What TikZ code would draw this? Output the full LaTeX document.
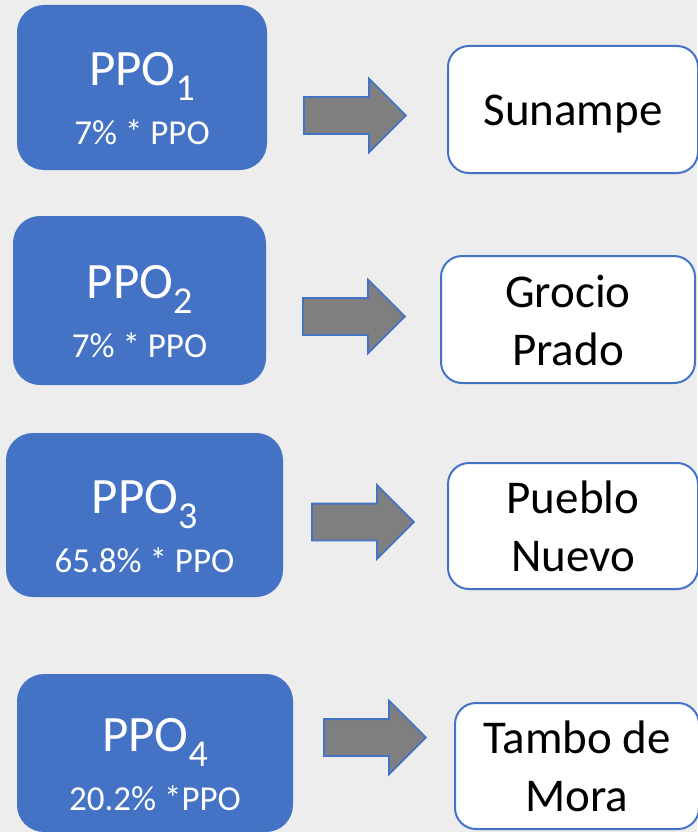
\documentclass[tikz,border=0pt]{standalone}
\usepackage{fontspec}
\setmainfont{Carlito}
\usepackage{tikz}
\usetikzlibrary{shapes,arrows,calc,positioning}
\definecolor{ppoblue}{HTML}{4472C4}
\definecolor{bggray}{HTML}{EDEDED}
\definecolor{arrowgray}{HTML}{7F7F7F}
\newcommand{\ppo}[1]{{\fontsize{51}{59}\selectfont PPO\raisebox{-15pt}{\fontsize{38}{38}\selectfont #1}}}
\tikzset{
        share/.style = {rectangle, rounded corners=27pt,
            fill=ppoblue, text=white, align=center, inner sep=0pt,
            font=\fontsize{35}{59}\selectfont,
            text height=114pt, text depth=0pt},
        town/.style = {rectangle, rounded corners=21pt,
            draw=ppoblue, line width=2pt, fill=white,
            align=center, inner sep=0pt,
            font=\fontsize{47}{58}\selectfont,
            text height=91pt, text depth=0pt},
        flow/.style = {single arrow, draw=ppoblue, fill=arrowgray,
            line width=1.8pt, inner xsep=0pt, inner ysep=17.5pt,
            text height=0pt, text depth=0pt, anchor=tail,
            minimum height=102pt, minimum width=72pt,
            single arrow head extend=18.5pt},
    }

\begin{document}
\begin{tikzpicture}[x=1pt,y=-1pt]
    \fill[bggray] (0,0) rectangle (697,832);
    \useasboundingbox (0,0) rectangle (697,832);

    % shares of PPO
    \node[share, minimum width=250pt, minimum height=165pt] (ppo1) at (142,87.5) {\ppo{1}\\7\% * PPO};
    \node[share, minimum width=253pt, minimum height=169pt] (ppo2) at (139.5,300.5) {\ppo{2}\\7\% * PPO};
    \node[share, minimum width=277pt, minimum height=164pt] (ppo3) at (144.5,515) {\ppo{3}\\65.8\% * PPO};
    \node[share, minimum width=276pt, minimum height=158pt] (ppo4) at (155,753) {\ppo{4}\\20.2\% *PPO};

    % block arrows
    \node[flow] (arr1) at (303,115.5) {};
    \node[flow] (arr2) at (302,316.5) {};
    \node[flow] (arr3) at (311,522) {};
    \node[flow] (arr4) at (323,737.5) {};

    % districts
    \node[town, text height=33pt, minimum width=250pt, minimum height=127pt] (sunampe) at (573,109.5) {Sunampe};
    \node[town, minimum width=254pt, minimum height=127pt] (grocio) at (568,319.5) {Grocio\\Prado};
    \node[town, minimum width=250pt, minimum height=126pt] (pueblo) at (573,526) {Pueblo\\Nuevo};
    \node[town, minimum width=244pt, minimum height=126pt] (tambo) at (577,766) {Tambo de\\Mora};
\end{tikzpicture}
\end{document}
